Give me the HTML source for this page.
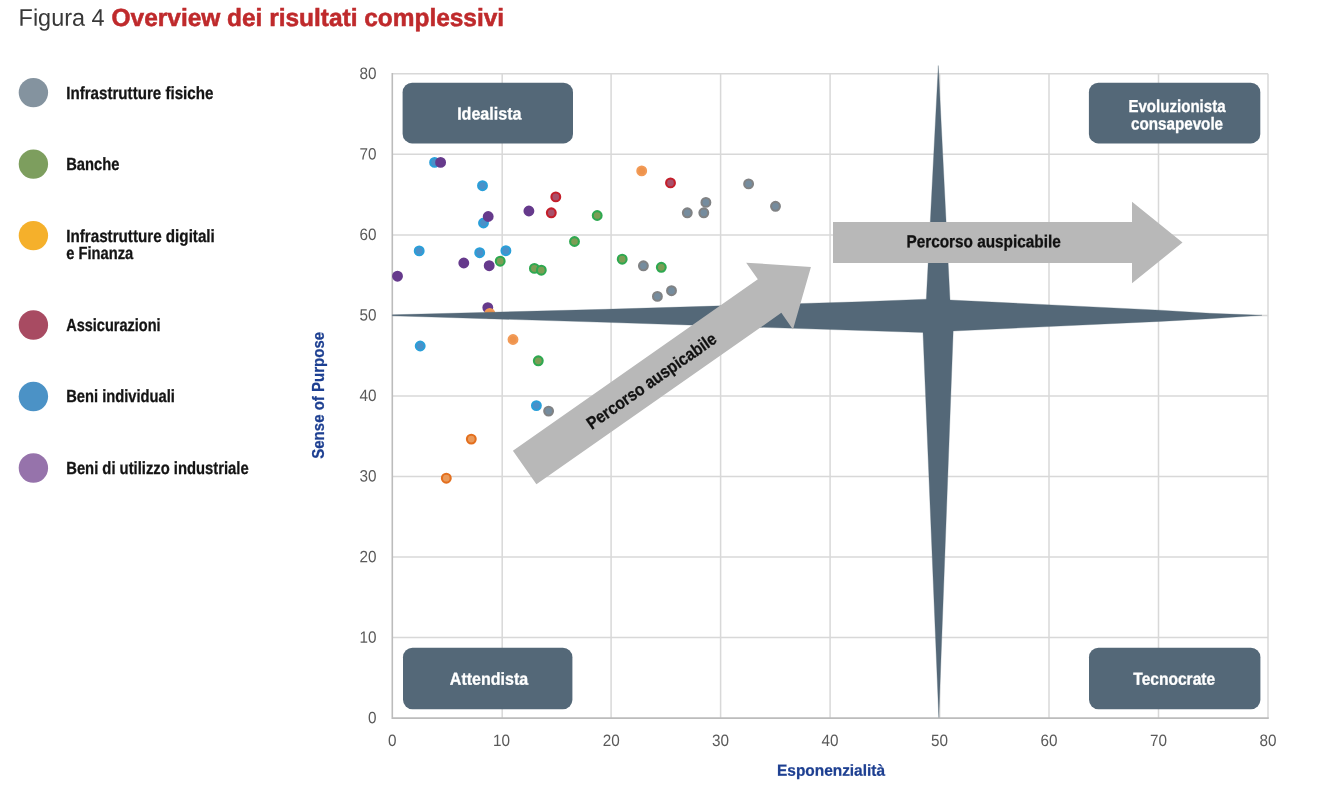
<!DOCTYPE html>
<html lang="it"><head><meta charset="utf-8"><title>Figura 4 Overview dei risultati complessivi</title>
<style>html,body{margin:0;padding:0;background:#fff}body{width:1318px;height:800px;overflow:hidden;font-family:"Liberation Sans",sans-serif}svg{display:block}text{font-family:"Liberation Sans",sans-serif}.b{font-weight:bold}.tk{fill:#5a5a5a}.lg{fill:#141414;stroke:#141414;stroke-width:.3px;font-weight:bold}.bx{fill:#fff;stroke:#fff;stroke-width:.3px;font-weight:bold}.ax{fill:#1d3f91;stroke:#1d3f91;stroke-width:.25px;font-weight:bold}.ar{fill:#111;stroke:#111;stroke-width:.3px;font-weight:bold}.tt{fill:#bf2a2c;stroke:#bf2a2c;stroke-width:.55px;font-weight:bold}</style></head><body>
<svg width="1318" height="800" viewBox="0 0 1318 800">
<rect width="1318" height="800" fill="#fff"/>
<text transform="translate(18.60 25.80) rotate(0.03) scale(0.9768 1)" font-size="24.0" fill="#383838">Figura 4</text>
<text class="tt" transform="translate(111.60 25.90) rotate(0.03) scale(0.9861 1)" font-size="24.8">Overview dei risultati complessivi</text>
<circle cx="33.4" cy="92.6" r="14.7" fill="#84939f"/>
<text class="lg" transform="translate(66.20 98.50) rotate(0.03) scale(0.8607 1)" font-size="17.6">Infrastrutture fisiche</text>
<circle cx="33.4" cy="164.1" r="14.7" fill="#7d9e5e"/>
<text class="lg" transform="translate(66.20 169.60) rotate(0.03) scale(0.8383 1)" font-size="17.6">Banche</text>
<circle cx="33.4" cy="235.6" r="14.7" fill="#f5b02b"/>
<text class="lg" transform="translate(66.20 241.50) rotate(0.03) scale(0.8640 1)" font-size="17.6">Infrastrutture digitali</text>
<text class="lg" transform="translate(66.20 258.60) rotate(0.03) scale(0.8354 1)" font-size="17.6">e Finanza</text>
<circle cx="33.4" cy="325.0" r="14.7" fill="#a84b62"/>
<text class="lg" transform="translate(66.20 330.90) rotate(0.03) scale(0.8258 1)" font-size="17.6">Assicurazioni</text>
<circle cx="33.4" cy="396.5" r="14.7" fill="#4b92c6"/>
<text class="lg" transform="translate(66.20 402.40) rotate(0.03) scale(0.8365 1)" font-size="17.6">Beni individuali</text>
<circle cx="33.4" cy="468.0" r="14.7" fill="#9673ab"/>
<text class="lg" transform="translate(66.20 473.90) rotate(0.03) scale(0.8407 1)" font-size="17.6">Beni di utilizzo industriale</text>
<g stroke="#d8d8d8" stroke-width="1.5" fill="none">
<line x1="502.2" y1="73.8" x2="502.2" y2="718.0"/>
<line x1="611.1" y1="73.8" x2="611.1" y2="718.0"/>
<line x1="720.6" y1="73.8" x2="720.6" y2="718.0"/>
<line x1="830.1" y1="73.8" x2="830.1" y2="718.0"/>
<line x1="939.6" y1="73.8" x2="939.6" y2="718.0"/>
<line x1="1049.0" y1="73.8" x2="1049.0" y2="718.0"/>
<line x1="1158.5" y1="73.8" x2="1158.5" y2="718.0"/>
<line x1="1268.0" y1="73.8" x2="1268.0" y2="718.0"/>
<line x1="392.2" y1="637.5" x2="1268.0" y2="637.5"/>
<line x1="392.2" y1="557.0" x2="1268.0" y2="557.0"/>
<line x1="392.2" y1="476.4" x2="1268.0" y2="476.4"/>
<line x1="392.2" y1="395.9" x2="1268.0" y2="395.9"/>
<line x1="392.2" y1="315.4" x2="1268.0" y2="315.4"/>
<line x1="392.2" y1="234.9" x2="1268.0" y2="234.9"/>
<line x1="392.2" y1="154.3" x2="1268.0" y2="154.3"/>
<line x1="392.2" y1="73.8" x2="1268.0" y2="73.8"/>
</g>
<path d="M392.3 73.0V718.1H1268.8" fill="none" stroke="#bcbcbc" stroke-width="1.6"/>
<text class="tk" transform="translate(392.20 746.00) rotate(0.03) scale(0.9262 1)" font-size="16.5" text-anchor="middle">0</text>
<text class="tk" transform="translate(376.40 723.20) rotate(0.03) scale(0.9262 1)" font-size="16.5" text-anchor="end">0</text>
<text class="tk" transform="translate(501.60 746.00) rotate(0.03) scale(0.9262 1)" font-size="16.5" text-anchor="middle">10</text>
<text class="tk" transform="translate(376.40 642.68) rotate(0.03) scale(0.9262 1)" font-size="16.5" text-anchor="end">10</text>
<text class="tk" transform="translate(611.15 746.00) rotate(0.03) scale(0.9262 1)" font-size="16.5" text-anchor="middle">20</text>
<text class="tk" transform="translate(376.40 562.15) rotate(0.03) scale(0.9262 1)" font-size="16.5" text-anchor="end">20</text>
<text class="tk" transform="translate(720.62 746.00) rotate(0.03) scale(0.9262 1)" font-size="16.5" text-anchor="middle">30</text>
<text class="tk" transform="translate(376.40 481.62) rotate(0.03) scale(0.9262 1)" font-size="16.5" text-anchor="end">30</text>
<text class="tk" transform="translate(830.10 746.00) rotate(0.03) scale(0.9262 1)" font-size="16.5" text-anchor="middle">40</text>
<text class="tk" transform="translate(376.40 401.10) rotate(0.03) scale(0.9262 1)" font-size="16.5" text-anchor="end">40</text>
<text class="tk" transform="translate(939.58 746.00) rotate(0.03) scale(0.9262 1)" font-size="16.5" text-anchor="middle">50</text>
<text class="tk" transform="translate(376.40 320.57) rotate(0.03) scale(0.9262 1)" font-size="16.5" text-anchor="end">50</text>
<text class="tk" transform="translate(1049.05 746.00) rotate(0.03) scale(0.9262 1)" font-size="16.5" text-anchor="middle">60</text>
<text class="tk" transform="translate(376.40 240.05) rotate(0.03) scale(0.9262 1)" font-size="16.5" text-anchor="end">60</text>
<text class="tk" transform="translate(1158.53 746.00) rotate(0.03) scale(0.9262 1)" font-size="16.5" text-anchor="middle">70</text>
<text class="tk" transform="translate(376.40 159.53) rotate(0.03) scale(0.9262 1)" font-size="16.5" text-anchor="end">70</text>
<text class="tk" transform="translate(1268.00 746.00) rotate(0.03) scale(0.9262 1)" font-size="16.5" text-anchor="middle">80</text>
<text class="tk" transform="translate(376.40 79.00) rotate(0.03) scale(0.9262 1)" font-size="16.5" text-anchor="end">80</text>
<text class="ax" transform="translate(831.00 775.80) rotate(0.03) scale(0.9641 1)" font-size="16" text-anchor="middle">Esponenzialità</text>
<text class="ax" transform="translate(323.60 395.30) rotate(-90) scale(0.9397 1)" font-size="16" text-anchor="middle">Sense of Purpose</text>
<rect x="402.6" y="82.8" width="170.4" height="60.6" rx="9.5" ry="9.5" fill="#546878"/>
<text class="bx" transform="translate(489.30 119.60) rotate(0.03) scale(0.9302 1)" font-size="17.3" text-anchor="middle">Idealista</text>
<rect x="1088.9" y="82.8" width="171.4" height="60.6" rx="9.5" ry="9.5" fill="#546878"/>
<text class="bx" transform="translate(1177.00 111.70) rotate(0.03) scale(0.8726 1)" font-size="17.3" text-anchor="middle">Evoluzionista</text>
<text class="bx" transform="translate(1177.00 129.60) rotate(0.03) scale(0.8797 1)" font-size="17.3" text-anchor="middle">consapevole</text>
<rect x="403.0" y="647.8" width="169.4" height="61.4" rx="9.5" ry="9.5" fill="#546878"/>
<text class="bx" transform="translate(489.00 684.80) rotate(0.03) scale(0.9269 1)" font-size="17.3" text-anchor="middle">Attendista</text>
<rect x="1089.0" y="647.8" width="171.4" height="61.4" rx="9.5" ry="9.5" fill="#546878"/>
<text class="bx" transform="translate(1174.20 684.80) rotate(0.03) scale(0.8998 1)" font-size="17.3" text-anchor="middle">Tecnocrate</text>
<g fill="#758c9e" stroke="#808284" stroke-width="2.1">
<circle cx="703.8" cy="212.8" r="4.4"/>
<circle cx="705.9" cy="202.4" r="4.4"/>
<circle cx="687.3" cy="212.8" r="4.4"/>
<circle cx="748.6" cy="183.9" r="4.4"/>
<circle cx="775.5" cy="206.3" r="4.4"/>
<circle cx="643.4" cy="265.8" r="4.4"/>
<circle cx="671.5" cy="290.7" r="4.4"/>
<circle cx="657.4" cy="296.4" r="4.4"/>
<circle cx="548.6" cy="411.1" r="4.4"/>
</g>
<g fill="#7c9d55" stroke="#2ea850" stroke-width="2.1">
<circle cx="597.2" cy="215.5" r="4.4"/>
<circle cx="574.5" cy="241.5" r="4.4"/>
<circle cx="500.2" cy="261.2" r="4.4"/>
<circle cx="534.4" cy="268.4" r="4.4"/>
<circle cx="541.3" cy="270.2" r="4.4"/>
<circle cx="622.2" cy="259.2" r="4.4"/>
<circle cx="661.3" cy="267.3" r="4.4"/>
<circle cx="538.3" cy="360.8" r="4.4"/>
</g>
<g fill="#4a90c8" stroke="#2a9fd9" stroke-width="2.1">
<circle cx="434.6" cy="162.4" r="4.4"/>
<circle cx="482.5" cy="185.7" r="4.4"/>
<circle cx="483.5" cy="223.0" r="4.4"/>
<circle cx="419.2" cy="250.9" r="4.4"/>
<circle cx="479.7" cy="252.7" r="4.4"/>
<circle cx="505.9" cy="250.7" r="4.4"/>
<circle cx="420.2" cy="346.0" r="4.4"/>
<circle cx="536.4" cy="405.6" r="4.4"/>
</g>
<g fill="#663a8c" stroke="#663a8c" stroke-width="2.1">
<circle cx="440.6" cy="162.4" r="4.4"/>
<circle cx="488.2" cy="216.5" r="4.4"/>
<circle cx="528.9" cy="211.0" r="4.4"/>
<circle cx="463.8" cy="263.0" r="4.4"/>
<circle cx="489.2" cy="265.7" r="4.4"/>
<circle cx="397.5" cy="276.2" r="4.4"/>
<circle cx="487.8" cy="307.6" r="4.4"/>
</g>
<g fill="#a9506a" stroke="#c41e2a" stroke-width="2.1">
<circle cx="555.8" cy="196.9" r="4.4"/>
<circle cx="551.3" cy="212.8" r="4.4"/>
<circle cx="670.5" cy="182.9" r="4.4"/>
</g>
<g fill="#ee934c" stroke="#f29a56" stroke-width="2.1">
<circle cx="641.7" cy="170.9" r="4.4"/>
<circle cx="489.8" cy="313.4" r="4.4"/>
<circle cx="513.0" cy="339.5" r="4.4"/>
</g>
<g fill="#ea9a5a" stroke="#e36f1e" stroke-width="2.1">
<circle cx="471.3" cy="439.1" r="4.4"/>
<circle cx="446.3" cy="478.2" r="4.4"/>
</g>
<polygon points="938.3,65.5 950,300 1160,310.2 1210,313.3 1262,315.3 1210,318.7 1160,321.4 953.2,331 938.8,717.5 923,332.5 605,322.3 392.3,315.8 392.3,314.8 605,309.3 860,301.8 926.3,299.2" fill="#546878" stroke="#546878" stroke-width="0.3" stroke-linejoin="miter"/>
<g transform="translate(833 242.5)"><polygon points="0,-20.5 299,-20.5 299,-40.8 349.5,0 299,40.8 299,20.5 0,20.5" fill="#b8b8b8"/><text class="ar" transform="translate(73.50 4.70) rotate(0.03) scale(0.8815 1)" font-size="17.4">Percorso auspicabile</text></g>
<g transform="translate(524.65 467.55) rotate(-35)"><polygon points="0,-20.5 299,-20.5 299,-40.8 349.5,0 299,40.8 299,20.5 0,20.5" fill="#b8b8b8"/><text class="ar" transform="translate(76.50 7.60) rotate(0.03) scale(0.8815 1)" font-size="17.4">Percorso auspicabile</text></g>
</svg></body></html>
